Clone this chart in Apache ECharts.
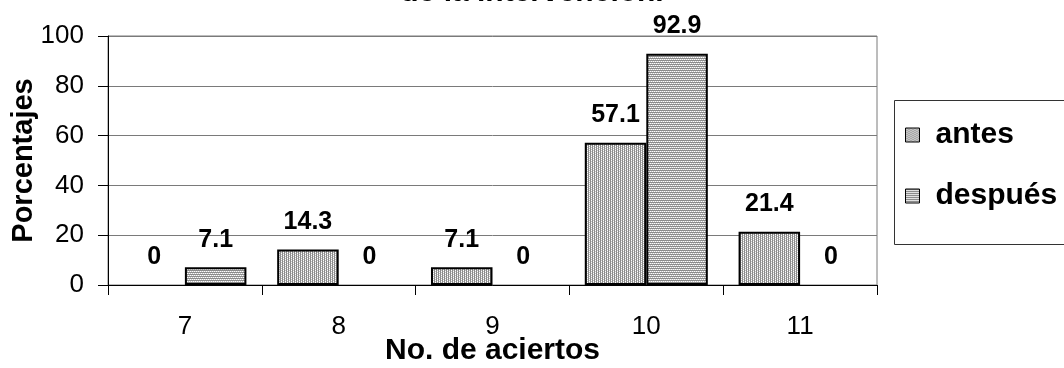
<!DOCTYPE html>
<html>
<head>
<meta charset="utf-8">
<style>
  html, body { margin: 0; padding: 0; background: #ffffff; }
  #chart { width: 1064px; height: 368px; }
</style>
<script src="https://cdn.jsdelivr.net/npm/echarts@6/dist/echarts.min.js"></script>
</head>
<body>
<div id="chart"></div>
<script>
// Number of correct answers and the share of students (%) before / after
const categories = ['7', '8', '9', '10', '11'];
const antes = [0, 14.3, 7.1, 57.1, 21.4];
const despues = [7.1, 0, 0, 92.9, 0];
const yTicks = [0, 20, 40, 60, 80, 100];

const FONT = '"Liberation Sans", Arial, sans-serif';

// Small stippled fill patterns (vertical grain for "antes", horizontal for "después")
function stipple(vertical) {
  const c = document.createElement('canvas');
  c.width = 4; c.height = 4;
  const ctx = c.getContext('2d');
  ctx.fillStyle = '#ffffff';
  ctx.fillRect(0, 0, 4, 4);
  for (let y = 0; y < 4; y++) {
    for (let x = 0; x < 4; x++) {
      const a = vertical ? x : y;
      const b = vertical ? y : x;
      let col = null;
      if (a % 2 === 0) col = '#8c8c8c';
      else if ((b + (a >> 1)) % 2 === 0) col = '#c4c4c4';
      if (col) { ctx.fillStyle = col; ctx.fillRect(x, y, 1, 1); }
    }
  }
  return c;
}

// Zero-height bars get no outline so they don't thicken the baseline
const withFlatZeros = arr => arr.map(v => v === 0 ? { value: v, itemStyle: { borderWidth: 0 } } : v);

const chart = echarts.init(document.getElementById('chart'), null, { renderer: 'canvas' });

const labelOpt = {
  show: true,
  position: 'top',
  distance: 15,
  color: '#000',
  fontFamily: FONT,
  fontWeight: 'bold',
  fontSize: 25,
  formatter: p => String(p.value)
};

chart.setOption({
  backgroundColor: '#ffffff',
  animation: false,
  grid: {
    left: 108, right: 187, top: 36, bottom: 83,
    outerBoundsMode: 'none',
    containLabel: false,
    show: true, borderColor: '#7a7a7a', borderWidth: 1, backgroundColor: 'transparent'
  },
  graphic: [
    // last line of the chart title, running off the top edge
    {
      type: 'text',
      x: 532,
      y: 8,
      style: {
        text: 'de la intervención.',
        fontFamily: FONT,
        fontWeight: 'bold',
        fontSize: 30,
        fill: '#000',
        align: 'center',
        verticalAlign: 'bottom'
      },
      z: 10
    },
    // legend frame runs past the right edge of the canvas
    {
      type: 'rect',
      left: 892,
      top: 98,
      shape: { width: 220, height: 144 },
      style: { fill: 'none', stroke: '#333', lineWidth: 1 },
      z: 1
    }
  ],
  legend: {
    orient: 'vertical',
    left: 905,
    top: 120,
    padding: 0,
    itemWidth: 14,
    itemHeight: 14,
    itemGap: 31,
    icon: 'rect',
    itemStyle: { borderWidth: 1, borderColor: '#000' },
    textStyle: { fontFamily: FONT, fontWeight: 'bold', fontSize: 30, color: '#000', padding: [0, 0, 0, 11] },
    data: ['antes', 'después']
  },
  xAxis: {
    type: 'category',
    data: categories,
    boundaryGap: true,
    name: 'No. de aciertos',
    nameLocation: 'middle',
    nameGap: 51,
    nameMoveOverlap: false,
    nameTextStyle: { fontFamily: FONT, fontWeight: 'bold', fontSize: 30, color: '#000' },
    axisLine: { lineStyle: { color: '#000', width: 1 } },
    axisTick: { show: true, length: 10, lineStyle: { color: '#000' } },
    axisLabel: { margin: 29, fontFamily: FONT, fontSize: 26, color: '#000' }
  },
  yAxis: {
    type: 'value',
    min: yTicks[0],
    max: yTicks[yTicks.length - 1],
    interval: yTicks[1] - yTicks[0],
    name: 'Porcentajes',
    nameLocation: 'middle',
    nameGap: 70,
    nameMoveOverlap: false,
    nameTextStyle: { fontFamily: FONT, fontWeight: 'bold', fontSize: 29, color: '#000' },
    axisLine: { show: true, lineStyle: { color: '#000', width: 1 } },
    axisTick: { show: true, length: 10, lineStyle: { color: '#000' } },
    axisLabel: { margin: 24, fontFamily: FONT, fontSize: 26, color: '#000' },
    splitLine: { show: true, lineStyle: { color: '#7a7a7a', width: 1 } }
  },
  series: [
    {
      name: 'antes',
      type: 'bar',
      data: withFlatZeros(antes),
      barGap: '0%',
      barCategoryGap: '20%',
      itemStyle: { color: { image: stipple(true), repeat: 'repeat' }, borderColor: '#000', borderWidth: 2 },
      label: labelOpt
    },
    {
      name: 'después',
      type: 'bar',
      data: withFlatZeros(despues),
      barGap: '0%',
      barCategoryGap: '20%',
      itemStyle: { color: { image: stipple(false), repeat: 'repeat' }, borderColor: '#000', borderWidth: 2 },
      label: labelOpt
    }
  ]
});
</script>
</body>
</html>
